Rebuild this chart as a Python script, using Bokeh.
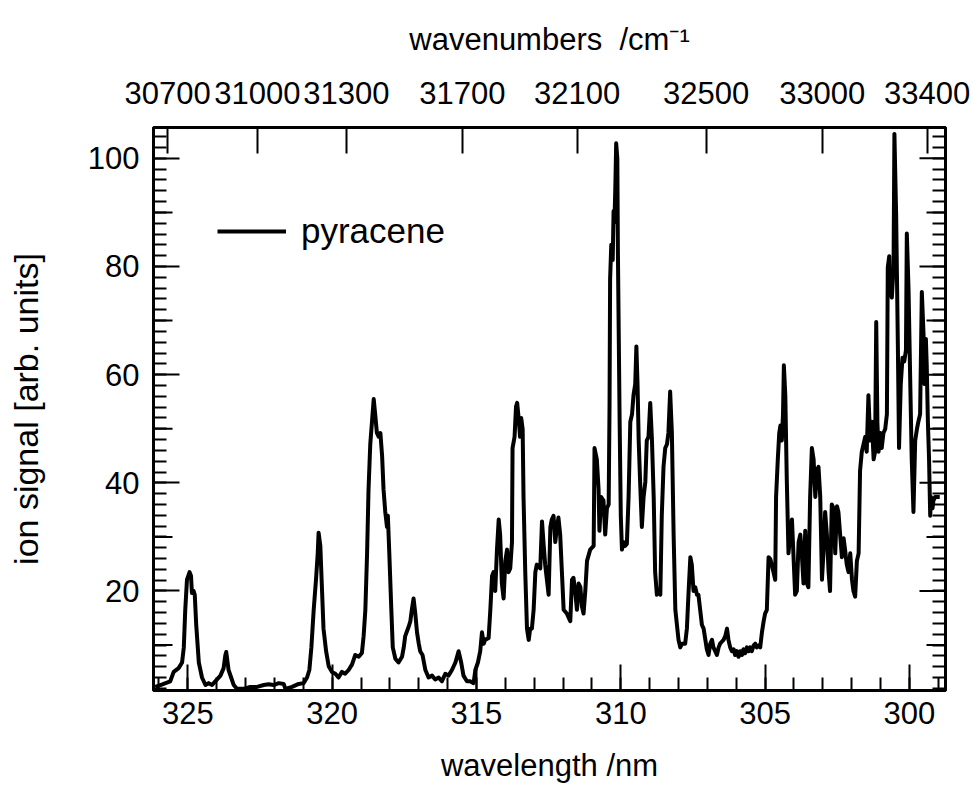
from bokeh.plotting import figure
from bokeh.models import (Range1d, LinearAxis, FixedTicker, SingleIntervalTicker,
                          Legend, LegendItem)
from bokeh.embed import file_html
from bokeh.resources import INLINE

# ---------------- data ----------------
wavelength_nm = [
    326.13, 325.95, 325.61, 325.49, 325.32, 325.20, 325.14, 325.09, 325.03, 324.94,
    324.89, 324.86, 324.80, 324.76, 324.71, 324.62, 324.51, 324.39, 324.28, 324.16,
    324.05, 323.87, 323.76, 323.70, 323.67, 323.59, 323.50, 323.41, 323.30, 323.07,
    322.84, 322.60, 322.37, 322.20, 322.03, 321.85, 321.68,
    321.62, 321.39, 321.16, 320.99, 320.87, 320.79, 320.72, 320.64, 320.56, 320.50,
    320.47, 320.41, 320.35, 320.30, 320.21, 320.12, 320.01, 319.89, 319.78, 319.66,
    319.55, 319.43, 319.31, 319.20, 319.08, 318.97, 318.91, 318.85, 318.79, 318.74,
    318.68, 318.62, 318.56, 318.51, 318.45, 318.39, 318.33, 318.27, 318.22, 318.16,
    318.10, 318.07, 318.02, 317.95, 317.90, 317.81, 317.70, 317.58, 317.52, 317.47,
    317.35, 317.29, 317.24, 317.18, 317.12, 317.06, 317.00, 316.95, 316.87,
    316.77, 316.66, 316.54, 316.43, 316.31, 316.20, 316.08, 315.97, 315.85, 315.73,
    315.62, 315.53, 315.45, 315.33, 315.22, 315.10, 315.04, 314.95, 314.87, 314.81,
    314.75, 314.70, 314.58, 314.52, 314.46, 314.41, 314.35, 314.29, 314.23, 314.18,
    314.12, 314.06, 314.00, 313.94, 313.89, 313.83, 313.77, 313.75, 313.68, 313.63,
    313.59, 313.54, 313.49, 313.45, 313.40, 313.37, 313.31, 313.25, 313.19, 313.14,
    313.08, 313.02, 312.96, 312.91, 312.85, 312.79, 312.73, 312.67, 312.62, 312.56,
    312.50, 312.44, 312.39, 312.33, 312.27, 312.21, 312.16, 312.10, 312.04, 311.98,
    311.87, 311.81, 311.75, 311.69, 311.64, 311.58, 311.52, 311.46, 311.40, 311.35,
    311.29, 311.23, 311.17, 311.06, 310.94, 310.91, 310.83, 310.77, 310.74, 310.68,
    310.60, 310.54, 310.48, 310.42, 310.39, 310.37, 310.33, 310.28, 310.25, 310.22,
    310.19, 310.16, 310.12, 310.10, 310.04, 310.00, 309.96, 309.90, 309.85, 309.79,
    309.73, 309.67, 309.61, 309.56, 309.50, 309.46, 309.42, 309.38, 309.33, 309.27,
    309.21, 309.15, 309.10, 309.04, 308.98, 308.92, 308.86, 308.81, 308.75, 308.69,
    308.63, 308.58, 308.52, 308.46, 308.40, 308.35, 308.29, 308.23, 308.17, 308.11,
    308.00, 307.94, 307.88, 307.77, 307.71, 307.65, 307.59, 307.54, 307.48, 307.42,
    307.36, 307.31, 307.25, 307.19, 307.13, 307.07, 307.02,
    306.96, 306.90, 306.84, 306.79, 306.73, 306.67, 306.61, 306.56, 306.50, 306.44,
    306.38, 306.32, 306.27, 306.21, 306.15, 306.09, 306.04, 305.98, 305.92, 305.86,
    305.80, 305.75, 305.69, 305.63, 305.57, 305.52, 305.46, 305.40, 305.34, 305.29,
    305.23, 305.17, 305.11, 305.05, 305.00, 304.94, 304.88, 304.82, 304.77, 304.71,
    304.65, 304.62, 304.56, 304.51, 304.47, 304.42, 304.38, 304.35, 304.30, 304.25,
    304.19, 304.13, 304.07, 304.02, 303.96, 303.90, 303.84, 303.78, 303.73, 303.67,
    303.61, 303.55, 303.50, 303.44, 303.38, 303.32, 303.26, 303.21, 303.15, 303.09,
    303.03, 302.98, 302.92, 302.86, 302.80, 302.75, 302.69, 302.63, 302.57, 302.51,
    302.46, 302.40, 302.34, 302.28,
    302.23, 302.17, 302.11, 302.05, 301.99, 301.94, 301.88, 301.82, 301.76, 301.71,
    301.65, 301.59, 301.53, 301.48, 301.42, 301.36, 301.30, 301.24, 301.19, 301.15,
    301.11, 301.07, 301.01, 300.96, 300.90, 300.84, 300.78, 300.75, 300.70, 300.67,
    300.61, 300.55, 300.52, 300.46, 300.40, 300.36, 300.30, 300.24, 300.18, 300.12,
    300.09, 300.03, 299.97, 299.92, 299.86, 299.80, 299.74, 299.69, 299.63, 299.57,
    299.51, 299.48, 299.43, 299.40, 299.36, 299.32, 299.28, 299.25, 299.20, 299.17,
    299.11, 298.95,
]

ion_signal = [
    2.26, 2.61, 3.30, 5.04, 5.74, 6.78, 9.57, 16.52, 22.09, 23.48,
    22.78, 19.65, 20.00, 19.30, 13.74, 6.78, 4.00, 2.61, 2.96, 2.61,
    3.30, 4.35, 5.74, 8.17, 8.73, 5.39, 4.00, 2.61, 1.91, 1.91,
    2.26, 2.26, 2.61, 2.75, 2.61, 2.96, 2.82,
    1.91, 2.26, 2.82, 2.96, 4.00, 5.39, 9.57, 16.52, 22.09, 26.96,
    30.78, 28.35, 20.00, 13.04, 8.87, 6.09, 5.04, 4.70, 4.00, 5.04,
    4.70, 5.39, 6.43, 8.17, 7.83, 8.52, 11.65, 16.52, 26.96, 38.78,
    47.13, 51.30, 55.48, 52.70, 49.22, 48.52, 49.22, 45.04, 38.78, 34.61,
    31.83, 33.91, 26.96, 16.52, 9.57, 7.48, 6.78, 7.83, 9.57, 11.65,
    13.39, 14.43, 16.52, 18.61, 15.83, 12.35, 10.26, 8.87, 8.17,
    5.39, 4.00, 4.35, 3.65, 4.00, 3.30, 4.70, 4.35, 5.39, 6.78,
    8.87, 6.78, 4.35, 3.30, 3.30, 2.96, 5.39, 6.78, 8.87, 12.35,
    10.26, 10.96, 11.30, 16.52, 22.78, 23.48, 20.00, 27.65, 33.22, 30.43,
    21.39, 18.61, 25.57, 27.65, 23.48, 24.17, 29.04, 46.43, 48.52, 54.09,
    54.78, 52.00, 48.52, 52.00, 49.91, 37.39, 23.48, 13.04, 10.96, 13.04,
    13.04, 16.52, 23.48, 24.87, 24.52, 24.17, 32.87, 28.35, 24.87, 22.09,
    19.30, 31.83, 33.22, 33.91, 29.04, 31.83, 33.57, 30.43, 23.48, 16.52,
    15.83, 15.13, 14.43, 22.09, 22.43, 20.00, 16.52, 21.39, 20.70, 17.22,
    15.83, 20.00, 25.57, 27.65, 28.35, 46.43, 44.35, 38.78, 31.13, 37.39,
    36.70, 30.43, 35.30, 36.00, 54.09, 77.74, 84.00, 81.22, 90.26, 88.17,
    94.43, 102.78, 100.00, 82.61, 51.30, 33.91, 27.65, 29.04, 28.35, 28.70,
    37.39, 51.30, 52.70, 56.17, 58.26, 65.22, 58.26, 47.83, 40.17, 31.83,
    37.39, 40.17, 47.83, 48.52, 54.78, 47.83, 37.39, 23.48, 19.30, 20.00,
    19.30, 33.91, 42.96, 46.43, 47.13, 49.22, 56.87, 49.22, 30.43, 16.52,
    10.96, 9.57, 10.26, 10.26, 13.04, 20.00, 26.26, 24.87, 20.00, 20.70,
    19.30, 19.30, 16.52, 13.74, 13.04, 10.96, 9.22,
    8.17, 10.26, 10.96, 9.57, 8.87, 8.17, 9.57, 10.26, 10.61, 10.96,
    11.65, 13.04, 10.96, 9.57, 8.87, 9.22, 8.17, 8.87, 7.83, 8.87,
    8.17, 9.22, 8.52, 9.57, 8.87, 9.57, 8.87, 9.91, 10.26, 9.57,
    9.91, 9.57, 12.35, 14.43, 15.83, 16.52, 26.26, 25.91, 24.87, 23.48,
    22.09, 37.39, 44.35, 49.22, 50.61, 47.83, 52.70, 61.74, 56.17, 40.87,
    26.96, 30.43, 33.22, 26.96, 19.30, 20.00, 29.04, 30.43, 26.96, 21.39,
    31.13, 21.39, 20.70, 37.39, 46.43, 44.35, 37.39, 42.26, 42.96, 37.39,
    22.09, 26.96, 34.61, 30.43, 23.48, 20.00, 36.00, 35.30, 26.96, 35.65,
    34.61, 30.43, 26.26, 29.74,
    27.65, 24.87, 23.48, 26.96, 22.09, 20.00, 18.96, 25.57, 26.96, 42.26,
    45.74, 47.13, 48.52, 45.74, 56.17, 47.83, 51.30, 44.35, 45.74, 69.74,
    51.30, 45.74, 49.22, 46.43, 49.22, 49.91, 52.70, 79.83, 81.91, 75.65,
    74.26, 79.83, 104.52, 89.57, 65.22, 46.43, 58.26, 63.13, 62.43, 64.52,
    86.09, 75.65, 58.26, 44.35, 34.61, 47.83, 49.91, 51.30, 52.70, 75.30,
    67.30, 58.26, 66.61, 61.74, 51.30, 44.35, 33.91, 37.39, 35.30, 36.70,
    37.39, 37.39,
]

series_name = "pyracene"

# top axis: wavenumber labels and where they sit on the wavelength scale
top_tick_labels = ["30700", "31000", "31300", "31700", "32100", "32500", "33000", "33400"]
top_tick_nm = [325.70, 322.59, 319.51, 315.49, 311.51, 307.04, 303.02, 299.39]

# y-axis tick levels: labelled majors, intermediate ticks, minor ticks
y_major_ticks = [20, 40, 60, 80, 100]
y_medium_ticks = [10, 30, 50, 70, 90]
y_minor_ticks = list(range(2, 106, 2))

X_START, X_END = 326.19, 298.75
Y_START, Y_END = 1.6, 105.7

FONT = "Liberation Sans"
FS = "31px"

p = figure(width=973, height=785, output_backend="svg", toolbar_location=None,
           x_range=Range1d(X_START, X_END), y_range=Range1d(Y_START, Y_END),
           x_axis_location=None, y_axis_location=None,
           min_border_left=153, min_border_right=28, min_border_top=127,
           min_border_bottom=95)
p.xgrid.visible = False
p.ygrid.visible = False
p.outline_line_color = "black"
p.outline_line_width = 3
p.background_fill_color = "white"
p.border_fill_color = "white"


def style(ax):
    ax.axis_line_width = 3
    ax.axis_line_color = "black"
    ax.major_tick_in = 26
    ax.major_tick_out = 0
    ax.minor_tick_in = 13
    ax.minor_tick_out = 0
    ax.major_tick_line_width = 2
    ax.minor_tick_line_width = 2
    ax.major_tick_line_color = "black"
    ax.minor_tick_line_color = "black"
    ax.major_label_text_font = FONT
    ax.major_label_text_font_size = FS
    ax.major_label_text_color = "black"
    ax.axis_label_text_font = FONT
    ax.axis_label_text_font_size = FS
    ax.axis_label_text_font_style = "normal"
    ax.axis_label_text_color = "black"


bottom = LinearAxis(ticker=SingleIntervalTicker(interval=5, num_minor_ticks=5),
                    axis_label="wavelength /nm")
style(bottom)
bottom.major_label_standoff = 11
bottom.axis_label_standoff = 21
p.add_layout(bottom, "below")

left = LinearAxis(ticker=SingleIntervalTicker(interval=20, num_minor_ticks=10),
                  axis_label="ion signal [arb. units]")
style(left)
left.axis_label_text_font_size = "34px"
left.major_label_standoff = 14
left.axis_label_standoff = 40
p.add_layout(left, "left")

# right axis: ticks only, no labels
right = LinearAxis(ticker=FixedTicker(ticks=[], minor_ticks=y_minor_ticks))
style(right)
p.add_layout(right, "right")

overrides = {}
for nm, lab in zip(top_tick_nm, top_tick_labels):
    overrides[nm] = lab
top = LinearAxis(ticker=FixedTicker(ticks=top_tick_nm, minor_ticks=[]),
                 major_label_overrides=overrides,
                 axis_label="wavenumbers\u00a0 /cm\u207b\u00b9")
style(top)
top.major_label_standoff = 24
top.axis_label_standoff = 22
p.add_layout(top, "above")

# intermediate-length ticks on both y sides, and the long ticks on the right side
p.scatter(x=[X_START] * len(y_medium_ticks), y=y_medium_ticks, marker="dash",
          size=38, line_width=2, line_color="black")
p.scatter(x=[X_END] * len(y_medium_ticks), y=y_medium_ticks, marker="dash",
          size=38, line_width=2, line_color="black")
p.scatter(x=[X_END] * len(y_major_ticks), y=y_major_ticks, marker="dash",
          size=52, line_width=2, line_color="black")

r = p.line(wavelength_nm, ion_signal, line_width=4, line_color="black",
           line_join="round")

legend = Legend(items=[LegendItem(label=series_name, renderers=[r])],
                location=(64, 439), background_fill_alpha=0, border_line_alpha=0,
                label_text_font=FONT, label_text_font_size="35px",
                label_text_color="black", glyph_width=69, glyph_height=30,
                label_standoff=15, padding=0, margin=0, spacing=0)
p.add_layout(legend)

open("out.html", "w").write(file_html(p, INLINE))
